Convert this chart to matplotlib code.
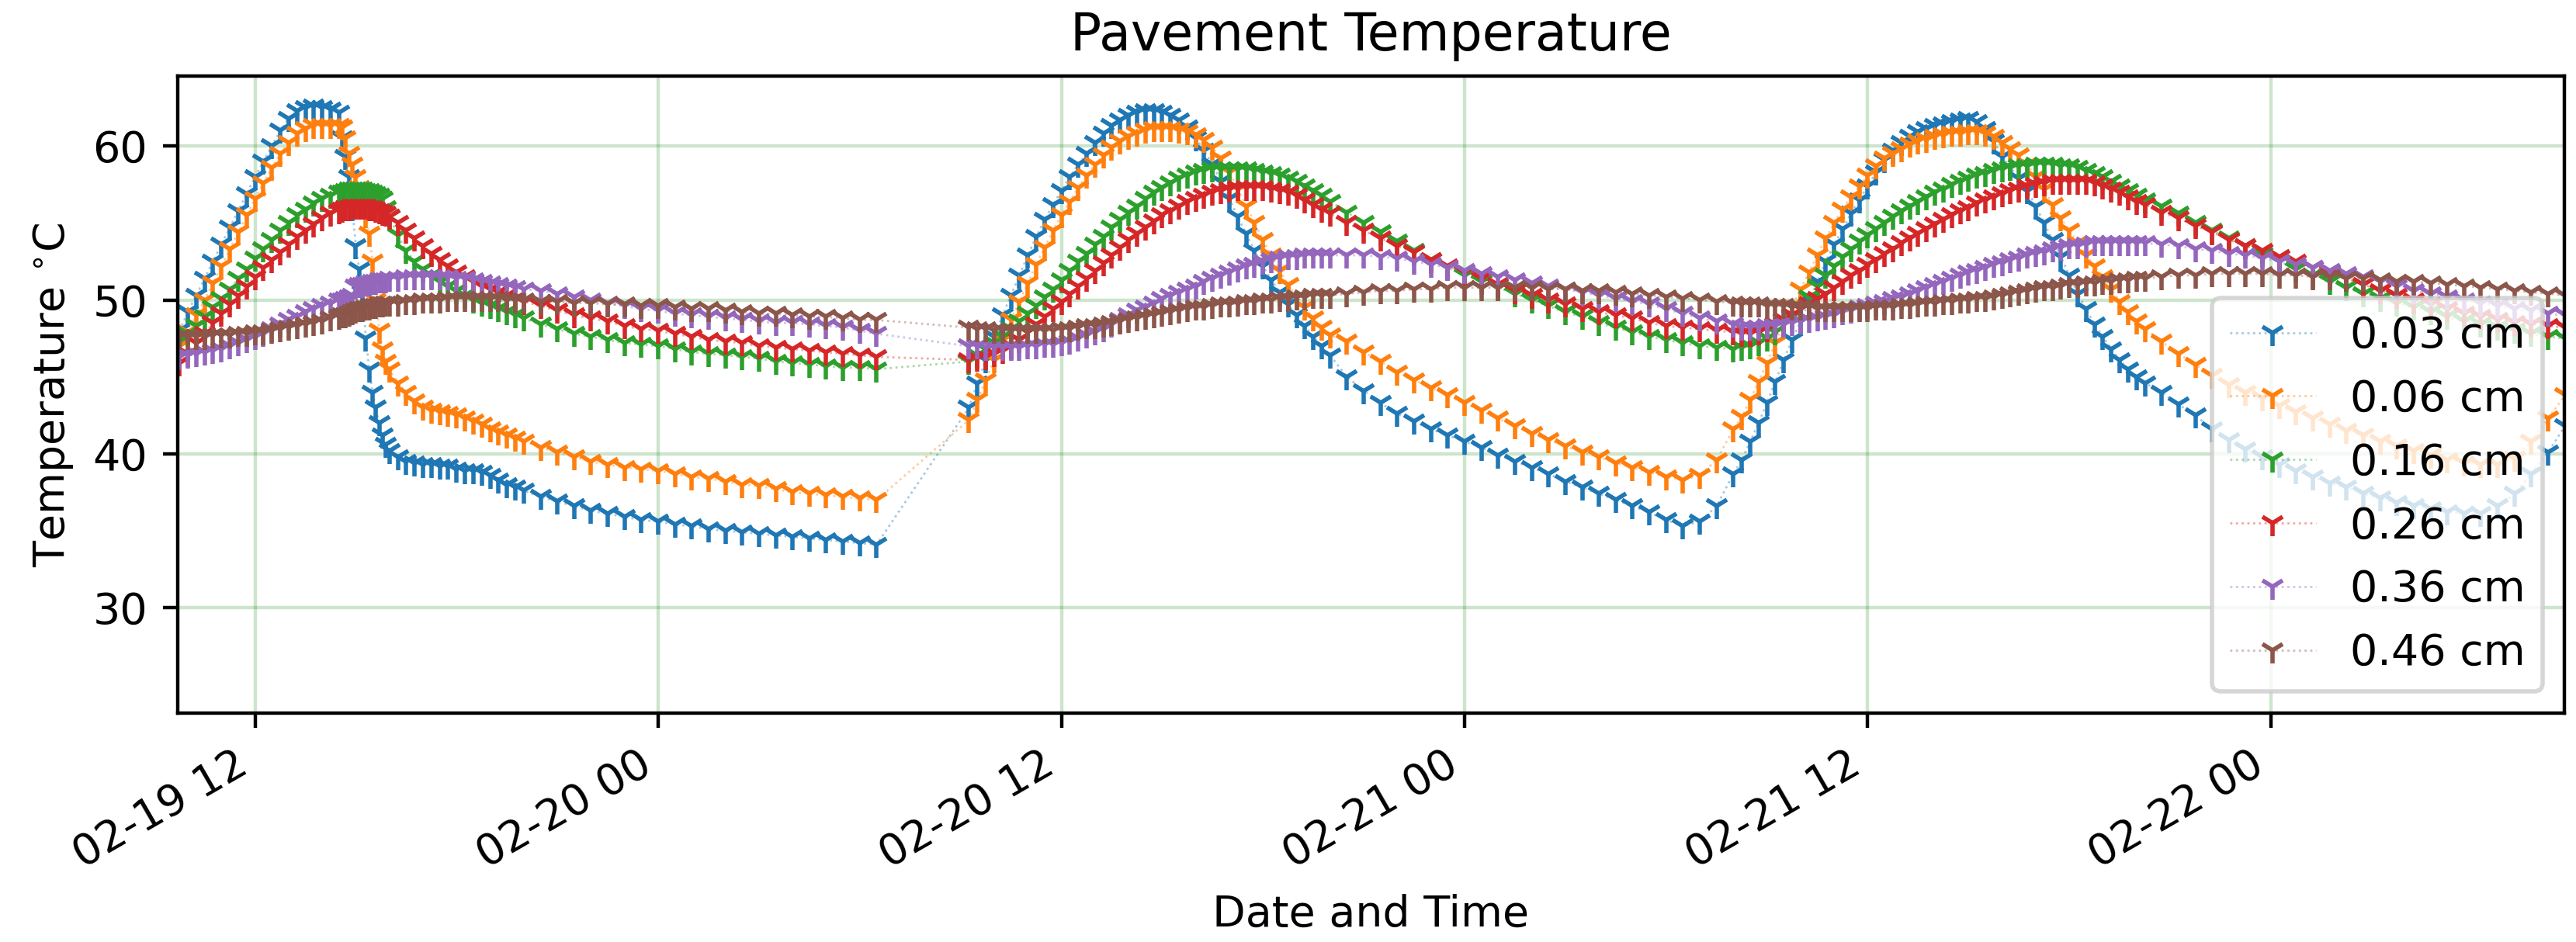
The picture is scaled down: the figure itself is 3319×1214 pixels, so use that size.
import numpy as np
import matplotlib
matplotlib.use('Agg')
import matplotlib.pyplot as plt
import matplotlib.dates as mdates
from matplotlib.colors import to_rgba

labels = ['0.03 cm', '0.06 cm', '0.16 cm', '0.26 cm', '0.36 cm', '0.46 cm']
colors = ['#1f77b4', '#ff7f0e', '#2ca02c', '#d62728', '#9467bd', '#8c564b']

# sample times, hours after 02-19 00:00 (logger interval varies)
t_hours = np.concatenate([
    np.arange(9.75, 14.51, 0.25),
    np.arange(14.6, 16.01, 0.1),
    np.arange(16.25, 20.01, 0.25),
    np.arange(20.5, 30.51, 0.5),
    np.arange(33.25, 44.01, 0.25),
    np.arange(44.5, 56.01, 0.5),
    np.arange(56.25, 68.26, 0.25),
    np.arange(68.75, 80.76, 0.5),
])

temp_003 = [
    48.0, 49.2, 50.3, 51.4, 52.5, 53.6, 54.7, 55.8, 56.9, 58.0, 59.0, 60.0, 61.0, 61.8, 62.3, 62.5, 62.6, 62.5, 62.4, 62.2,
    60.5, 59.3, 58.0, 56.0, 53.5, 52.0, 50.5, 47.5, 45.5, 44.0, 43.0, 42.0, 41.2, 40.6, 40.2,
    39.8, 39.5, 39.4, 39.3, 39.3, 39.2, 39.2, 39.0, 38.9, 38.9, 38.8, 38.6, 38.3, 38.0, 37.8, 37.6,
    37.2, 36.9, 36.6, 36.3, 36.1, 35.9, 35.7, 35.6, 35.4, 35.3, 35.1, 35.0, 34.9, 34.8, 34.7, 34.6, 34.5, 34.4, 34.3, 34.2, 34.1,
    43.0, 44.6, 46.1, 47.6, 49.0, 50.3, 51.6, 52.9, 54.1, 55.2, 56.2, 57.1, 58.0, 58.8, 59.5, 60.2, 60.8, 61.3, 61.7, 62.0,
    62.2, 62.3, 62.3, 62.2, 62.0, 61.7, 61.2, 60.5, 59.7, 58.8, 57.7, 56.6, 55.4, 54.3, 53.2, 52.2, 51.3, 50.5, 49.7, 49.0,
    48.3, 47.6, 47.0, 46.4,
    45.0, 44.1, 43.3, 42.6, 42.1, 41.6, 41.2, 40.8, 40.4, 39.9, 39.5, 39.1, 38.7, 38.2, 37.8, 37.4, 37.0, 36.6, 36.2, 35.7,
    35.3, 35.6, 36.6, 38.7,
    39.6, 40.8, 42.0, 43.3, 44.7, 46.1, 47.4, 48.6, 49.9, 51.2, 52.5, 53.6, 54.6, 55.6, 56.5, 57.4, 58.3, 59.1, 59.7, 60.2,
    60.6, 60.9, 61.1, 61.3, 61.4, 61.6, 61.7, 61.8, 61.6, 61.1, 60.3, 59.3, 58.6, 57.9, 57.1, 56.1, 55.0, 53.9, 52.8, 51.6,
    50.4, 49.4, 48.4, 47.6, 46.8, 46.1, 45.5, 45.0, 44.6,
    44.0, 43.2, 42.5, 41.6, 40.9, 40.3, 39.8, 39.3, 38.9, 38.5, 38.1, 37.8, 37.4, 37.1, 36.8, 36.6, 36.4, 36.2, 36.1, 36.1,
    36.6, 37.4, 38.7, 40.1, 41.8,
]
temp_006 = [
    47.0, 47.9, 49.0, 50.0, 51.1, 52.2, 53.3, 54.4, 55.5, 56.6, 57.6, 58.6, 59.5, 60.2, 60.8, 61.1, 61.3, 61.3, 61.3, 61.3,
    61.2, 60.5, 59.5, 58.8, 58.0, 57.3, 56.5, 55.5, 54.3, 52.5, 50.0, 48.0, 46.8, 46.0, 45.5,
    44.6, 44.0, 43.4, 43.0, 42.8, 42.7, 42.6, 42.5, 42.3, 42.1, 41.9, 41.6, 41.4, 41.2, 41.0, 40.8,
    40.4, 40.1, 39.8, 39.5, 39.3, 39.1, 39.0, 38.9, 38.7, 38.5, 38.4, 38.2, 38.0, 37.9, 37.7, 37.5, 37.4, 37.3, 37.2, 37.1, 37.0,
    42.2, 43.5, 44.8, 46.1, 47.4, 48.7, 49.9, 51.1, 52.3, 53.4, 54.5, 55.5, 56.4, 57.3, 58.1, 58.8, 59.4, 59.9, 60.3, 60.6,
    60.8, 61.0, 61.1, 61.1, 61.1, 61.0, 60.9, 60.7, 60.4, 59.9, 59.2, 58.3, 57.2, 56.1, 55.0, 53.9, 52.9, 51.9, 51.0, 50.2,
    49.5, 48.8, 48.2, 47.7,
    47.3, 46.6, 46.0, 45.3, 44.8, 44.3, 43.8, 43.3, 42.8, 42.3, 41.8, 41.3, 40.9, 40.5, 40.1, 39.8, 39.4, 39.1, 38.8, 38.5,
    38.3, 38.6, 39.6, 41.6,
    42.4, 43.5, 44.7, 45.9, 47.2, 48.4, 49.6, 50.7, 51.8, 52.9, 54.0, 55.0, 55.9, 56.7, 57.4, 58.1, 58.7, 59.2, 59.5, 59.8,
    60.1, 60.3, 60.4, 60.6, 60.7, 60.8, 60.8, 60.9, 60.9, 60.8, 60.6, 60.2, 59.8, 59.4, 58.8, 58.0, 57.2, 56.2, 55.3, 54.5,
    53.7, 52.9, 52.2, 51.5, 50.7, 49.9, 49.2, 48.6, 48.1,
    47.3, 46.5, 45.8, 45.1, 44.5, 44.0, 43.6, 43.1, 42.7, 42.3, 41.9, 41.5, 41.2, 40.8, 40.5, 40.2, 39.9, 39.6, 39.4, 39.3,
    39.3, 39.7, 40.8, 42.3, 43.8,
]
temp_016 = [
    47.3, 47.8, 48.3, 48.9, 49.5, 50.1, 50.7, 51.4, 52.0, 52.7, 53.3, 53.9, 54.5, 55.0, 55.5, 55.9, 56.3, 56.6, 56.8, 57.0,
    57.0, 57.1, 57.2, 57.2, 57.2, 57.2, 57.2, 57.1, 57.1, 57.0, 56.9, 56.8, 56.6, 56.0, 55.4,
    54.2, 53.2, 52.5, 52.0, 51.6, 51.2, 50.9, 50.6, 50.3, 50.0, 49.8, 49.6, 49.4, 49.2, 49.0, 48.8,
    48.4, 48.1, 47.8, 47.6, 47.4, 47.2, 47.1, 47.0, 46.8, 46.6, 46.5, 46.4, 46.3, 46.2, 46.0, 45.9, 45.8, 45.7, 45.6, 45.6, 45.5,
    46.0, 46.4, 46.8, 47.2, 47.6, 48.1, 48.6, 49.1, 49.6, 50.2, 50.7, 51.3, 51.9, 52.5, 53.0, 53.6, 54.1, 54.7, 55.2, 55.7,
    56.1, 56.6, 57.0, 57.3, 57.6, 57.9, 58.1, 58.3, 58.4, 58.5, 58.5, 58.5, 58.5, 58.5, 58.4, 58.3, 58.2, 58.1, 57.9, 57.7,
    57.4, 57.1, 56.8, 56.4,
    55.7, 55.0, 54.4, 53.8, 53.2, 52.6, 52.1, 51.6, 51.2, 50.8, 50.4, 50.0, 49.6, 49.2, 48.9, 48.5, 48.2, 47.9, 47.6, 47.4,
    47.2, 47.0, 46.9, 46.8,
    46.9, 47.0, 47.2, 47.5, 47.9, 48.4, 48.9, 49.5, 50.2, 50.9, 51.6, 52.2, 52.8, 53.3, 53.8, 54.2, 54.6, 55.0, 55.4, 55.8,
    56.1, 56.4, 56.7, 57.0, 57.2, 57.5, 57.7, 57.9, 58.1, 58.2, 58.4, 58.5, 58.6, 58.7, 58.7, 58.8, 58.8, 58.8, 58.7, 58.7,
    58.6, 58.4, 58.2, 58.0, 57.7, 57.4, 57.1, 56.8, 56.5,
    56.1, 55.6, 55.0, 54.5, 54.0, 53.5, 53.0, 52.5, 52.0, 51.6, 51.2, 50.8, 50.4, 50.1, 49.8, 49.5, 49.2, 48.9, 48.6, 48.4,
    48.2, 48.0, 47.8, 47.6, 47.5,
]
temp_026 = [
    45.9, 46.5, 47.2, 47.8, 48.5, 49.1, 49.7, 50.3, 50.9, 51.5, 52.1, 52.6, 53.1, 53.6, 54.1, 54.5, 54.9, 55.3, 55.6, 55.8,
    55.9, 56.0, 56.0, 56.1, 56.1, 56.1, 56.1, 56.1, 56.0, 56.0, 55.9, 55.8, 55.7, 55.6, 55.4,
    55.0, 54.5, 54.0, 53.5, 53.0, 52.6, 52.2, 51.8, 51.5, 51.2, 50.9, 50.7, 50.5, 50.3, 50.1, 49.9,
    49.6, 49.3, 49.0, 48.8, 48.6, 48.3, 48.1, 48.0, 47.8, 47.6, 47.4, 47.3, 47.2, 47.0, 46.9, 46.8, 46.7, 46.6, 46.5, 46.4, 46.3,
    46.1, 46.2, 46.3, 46.5, 46.7, 47.0, 47.4, 47.9, 48.4, 48.9, 49.4, 49.9, 50.4, 50.9, 51.4, 51.9, 52.4, 52.9, 53.4, 53.9,
    54.3, 54.7, 55.1, 55.5, 55.8, 56.1, 56.4, 56.6, 56.8, 57.0, 57.1, 57.2, 57.3, 57.3, 57.3, 57.3, 57.2, 57.1, 57.0, 56.8,
    56.5, 56.2, 55.9, 55.6,
    55.0, 54.5, 54.0, 53.5, 53.1, 52.6, 52.2, 51.8, 51.4, 51.0, 50.6, 50.3, 50.0, 49.7, 49.4, 49.2, 49.0, 48.8, 48.5, 48.3,
    48.2, 48.1, 48.0, 47.9,
    47.8, 47.8, 47.9, 48.1, 48.4, 48.7, 49.0, 49.4, 49.7, 50.1, 50.4, 50.8, 51.2, 51.6, 51.9, 52.3, 52.6, 53.0, 53.3, 53.7,
    54.0, 54.3, 54.6, 54.9, 55.2, 55.5, 55.8, 56.0, 56.3, 56.5, 56.7, 56.9, 57.1, 57.2, 57.4, 57.5, 57.6, 57.7, 57.7, 57.7,
    57.7, 57.7, 57.6, 57.4, 57.2, 57.0, 56.7, 56.4, 56.2,
    55.7, 55.3, 54.8, 54.4, 53.9, 53.5, 53.2, 52.8, 52.5, 52.1, 51.8, 51.4, 51.0, 50.6, 50.3, 50.0, 49.7, 49.4, 49.1, 48.9,
    48.7, 48.5, 48.4, 48.3, 48.2,
]
temp_036 = [
    46.3, 46.4, 46.5, 46.6, 46.7, 46.8, 47.0, 47.2, 47.4, 47.6, 47.8, 48.1, 48.4, 48.7, 48.9, 49.2, 49.4, 49.6, 49.8, 50.0,
    50.0, 50.1, 50.2, 50.3, 50.9, 51.0, 51.0, 51.1, 51.1, 51.2, 51.2, 51.3, 51.3, 51.3, 51.4,
    51.4, 51.5, 51.5, 51.5, 51.5, 51.5, 51.5, 51.4, 51.4, 51.3, 51.2, 51.1, 51.0, 50.9, 50.8, 50.7,
    50.6, 50.4, 50.2, 50.0, 49.8, 49.6, 49.4, 49.3, 49.1, 49.0, 48.9, 48.8, 48.7, 48.6, 48.5, 48.5, 48.4, 48.3, 48.2, 48.0, 47.8,
    47.0, 47.0, 46.9, 46.9, 46.9, 46.9, 46.9, 47.0, 47.0, 47.1, 47.1, 47.2, 47.3, 47.5, 47.7, 47.9, 48.1, 48.4, 48.7, 49.0,
    49.3, 49.5, 49.8, 50.1, 50.3, 50.5, 50.7, 50.9, 51.2, 51.4, 51.6, 51.8, 52.0, 52.2, 52.3, 52.5, 52.6, 52.7, 52.8, 52.8,
    52.9, 52.9, 52.9, 52.9,
    52.9, 52.9, 52.8, 52.7, 52.5, 52.3, 52.1, 51.9, 51.7, 51.5, 51.3, 51.1, 50.9, 50.7, 50.5, 50.3, 50.1, 49.9, 49.7, 49.4,
    49.1, 48.8, 48.6, 48.4,
    48.2, 48.2, 48.2, 48.3, 48.3, 48.4, 48.5, 48.6, 48.7, 48.8, 48.9, 49.0, 49.2, 49.3, 49.5, 49.6, 49.8, 49.9, 50.1, 50.2,
    50.4, 50.6, 50.8, 51.0, 51.2, 51.4, 51.6, 51.8, 51.9, 52.1, 52.3, 52.4, 52.6, 52.7, 52.9, 53.0, 53.1, 53.3, 53.4, 53.5,
    53.5, 53.6, 53.7, 53.7, 53.7, 53.7, 53.7, 53.7, 53.7,
    53.6, 53.5, 53.3, 53.2, 53.0, 52.9, 52.7, 52.5, 52.3, 52.1, 51.9, 51.7, 51.5, 51.2, 50.9, 50.6, 50.4, 50.2, 50.0, 49.8,
    49.6, 49.4, 49.3, 49.1, 49.0,
]
temp_046 = [
    47.6, 47.6, 47.6, 47.6, 47.7, 47.7, 47.7, 47.8, 47.8, 47.9, 47.9, 48.0, 48.1, 48.2, 48.3, 48.4, 48.5, 48.6, 48.8, 48.9,
    49.0, 49.0, 49.1, 49.2, 49.3, 49.4, 49.4, 49.5, 49.5, 49.6, 49.6, 49.7, 49.7, 49.8, 49.8,
    49.8, 49.9, 49.9, 50.0, 50.0, 50.0, 50.1, 50.1, 50.1, 50.1, 50.1, 50.1, 50.1, 50.0, 50.0, 50.0,
    49.9, 49.9, 49.8, 49.8, 49.7, 49.7, 49.6, 49.6, 49.5, 49.4, 49.4, 49.3, 49.2, 49.1, 49.1, 49.0, 48.9, 48.9, 48.8, 48.7, 48.7,
    48.2, 48.1, 48.1, 48.0, 48.0, 48.0, 48.0, 48.0, 48.0, 48.0, 48.0, 48.1, 48.1, 48.2, 48.3, 48.3, 48.4, 48.5, 48.6, 48.7,
    48.8, 48.9, 49.0, 49.1, 49.2, 49.3, 49.4, 49.5, 49.5, 49.6, 49.7, 49.7, 49.8, 49.9, 49.9, 50.0, 50.0, 50.1, 50.1, 50.2,
    50.2, 50.3, 50.3, 50.3,
    50.4, 50.5, 50.6, 50.6, 50.7, 50.7, 50.8, 50.8, 50.8, 50.8, 50.8, 50.8, 50.7, 50.7, 50.6, 50.6, 50.5, 50.4, 50.3, 50.2,
    50.1, 50.0, 49.9, 49.8,
    49.7, 49.7, 49.7, 49.6, 49.6, 49.6, 49.5, 49.5, 49.5, 49.4, 49.4, 49.4, 49.4, 49.4, 49.4, 49.4, 49.5, 49.5, 49.5, 49.6,
    49.6, 49.7, 49.8, 49.8, 49.9, 49.9, 50.0, 50.0, 50.1, 50.1, 50.2, 50.3, 50.4, 50.5, 50.6, 50.7, 50.8, 50.8, 50.9, 51.0,
    51.0, 51.1, 51.1, 51.2, 51.2, 51.3, 51.3, 51.4, 51.4,
    51.5, 51.6, 51.6, 51.7, 51.7, 51.7, 51.7, 51.6, 51.6, 51.5, 51.5, 51.4, 51.4, 51.3, 51.2, 51.2, 51.1, 51.0, 50.9, 50.8,
    50.7, 50.6, 50.5, 50.4, 50.3,
]

series = [temp_003, temp_006, temp_016, temp_026, temp_036, temp_046]

base = np.datetime64('2021-02-19T00:00')
times = base + np.round(t_hours * 60).astype(int).astype('timedelta64[m]')

W, H, DPI = 3319, 1214, 400
fig = plt.figure(figsize=(W / DPI, H / DPI), dpi=DPI)
ax = fig.add_axes([229 / W, 1 - 919 / H, (3304 - 229) / W, (919 - 98) / H])

for lab, vals, c in zip(labels, series, colors):
    ax.plot(times, vals, linestyle=':', linewidth=0.5, color=to_rgba(c, 0.4),
            marker='1', markersize=6, markeredgewidth=1.0,
            markeredgecolor=c, markerfacecolor=c, label=lab)

ax.set_xlim(base + np.timedelta64(582, 'm'), base + np.timedelta64(4844, 'm'))
ax.set_ylim(23.15, 64.55)
ax.yaxis.set_major_locator(plt.MultipleLocator(10))
ax.xaxis.set_major_locator(mdates.HourLocator(byhour=[0, 12]))
ax.xaxis.set_major_formatter(mdates.DateFormatter('%m-%d %H'))
plt.setp(ax.get_xticklabels(), rotation=30, ha='right')

ax.grid(True, color='green', alpha=0.2, linewidth=0.8)
ax.set_title('Pavement Temperature')
ax.set_xlabel('Date and Time')
ax.set_ylabel('Temperature $^{\\circ}$C')
ax.legend(loc='lower right')

fig.savefig('out.png', dpi=DPI)
